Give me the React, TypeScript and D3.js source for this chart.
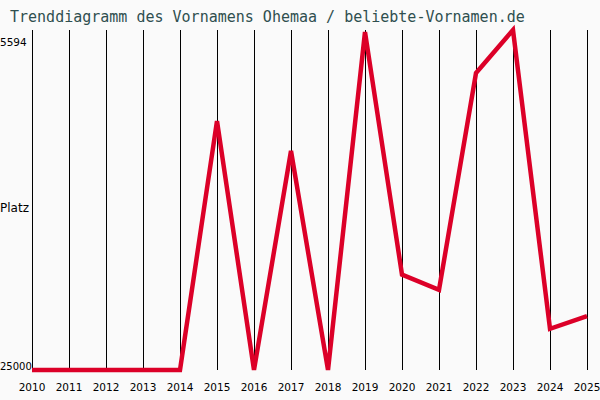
import React from "react";
import * as d3 from "d3";

// Rank of the name per year (25000 = not ranked that year)
const years = [2010, 2011, 2012, 2013, 2014, 2015, 2016, 2017, 2018, 2019, 2020, 2021, 2022, 2023, 2024, 2025];
const ranks = [25000, 25000, 25000, 25000, 25000, 10790, 25000, 12500, 25000, 5710, 19560, 20430, 8050, 5594, 22650, 21930];
const rankTicks = [5594, 25000];

const W = 600;
const H = 400;

const App: React.FC = () => {
  const x = d3.scaleLinear().domain([2010, 2025]).range([32, 587]);
  const y = d3.scaleLinear().domain([5594, 25000]).range([30, 370]);

  const line = d3
    .line<number>()
    .x((_, i) => x(years[i]))
    .y((d) => y(d));

  const path = line(ranks) || "";

  return (
    <svg
      width={W}
      height={H}
      style={{ position: "absolute", left: 0, top: 0, background: "#fafafa" }}
    >
      <rect width={W} height={H} fill="#fafafa" />
      <text
        x={10}
        y={22}
        fontFamily="DejaVu Sans Mono, monospace"
        fontSize={15}
        fill="#2f4f4f"
      >
        Trenddiagramm des Vornamens Ohemaa / beliebte-Vornamen.de
      </text>

      {years.map((yr) => (
        <line
          key={yr}
          x1={Math.round(x(yr)) + 0.5}
          x2={Math.round(x(yr)) + 0.5}
          y1={y(5594)}
          y2={y(25000)}
          stroke="#000"
          strokeWidth={1}
        />
      ))}

      {years.map((yr) => (
        <text
          key={"t" + yr}
          x={x(yr)}
          y={391}
          textAnchor="middle"
          fontFamily="DejaVu Sans, sans-serif"
          fontSize={10.5}
          fill="#000"
        >
          {yr}
        </text>
      ))}

      <text x={0} y={y(rankTicks[0]) + 16} fontFamily="DejaVu Sans, sans-serif" fontSize={10.5} fill="#000">
        {rankTicks[0]}
      </text>
      <text x={0} y={y(rankTicks[1])} fontFamily="DejaVu Sans, sans-serif" fontSize={10} fill="#000">
        {rankTicks[1]}
      </text>
      <text x={0} y={212} fontFamily="DejaVu Sans, sans-serif" fontSize={12} fill="#000">
        Platz
      </text>

      <path
        d={path}
        fill="none"
        stroke="#dc0028"
        strokeWidth={4.5}
        strokeLinejoin="miter"
      />
    </svg>
  );
};

export default App;
